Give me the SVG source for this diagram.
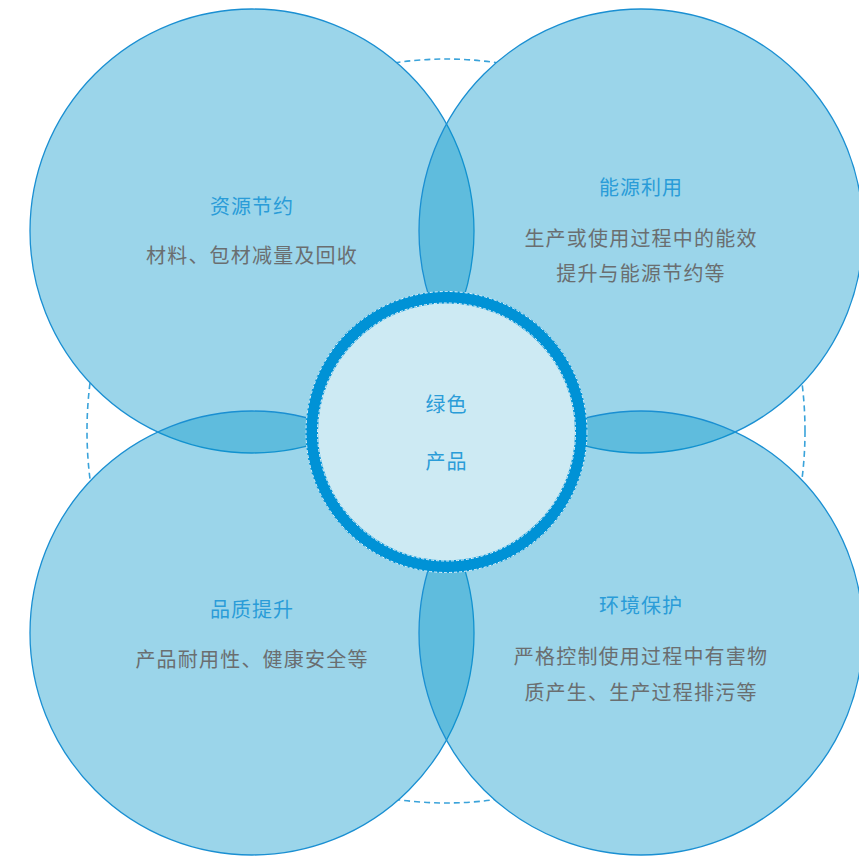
<svg xmlns="http://www.w3.org/2000/svg" width="859" height="858" viewBox="0 0 859 858">
<style>
.petal{fill:#0695cb;fill-opacity:0.4;stroke:#1a8fd2;stroke-width:1.3}
.mask{fill:#ffffff}
.title{font-family:"Noto Sans CJK SC","Noto Sans",sans-serif;font-size:20px;fill:#2a9cd8;text-anchor:middle;letter-spacing:1px}
.body{font-family:"Noto Sans CJK SC","Noto Sans",sans-serif;font-size:20px;fill:#6a6e70;text-anchor:middle;letter-spacing:1.2px}
</style>
<rect width="859" height="858" fill="#ffffff"/>
<ellipse id="outer-dashed" cx="446" cy="431" rx="359" ry="372" fill="none" stroke="#3aa3da" stroke-width="1.6" stroke-dasharray="6 4"/>
<g id="backing">
<circle class="mask" cx="252" cy="231" r="222"/>
<circle class="mask" cx="641" cy="231" r="222"/>
<circle class="mask" cx="252" cy="633" r="222"/>
<circle class="mask" cx="641" cy="633" r="222"/>
</g>
<g id="node-resource">
<circle class="petal" cx="252" cy="231" r="222"/>
</g>
<g id="node-energy">
<circle class="petal" cx="641" cy="231" r="222"/>
</g>
<g id="node-quality">
<circle class="petal" cx="252" cy="633" r="222"/>
</g>
<g id="node-environment">
<circle class="petal" cx="641" cy="633" r="222"/>
</g>
<g id="labels">
<text class="title" x="252" y="214">资源节约</text>
<text class="body" x="252" y="263">材料、包材减量及回收</text>
<text class="title" x="641" y="195">能源利用</text>
<text class="body" x="641" y="246">生产或使用过程中的能效</text>
<text class="body" x="641" y="281">提升与能源节约等</text>
<text class="title" x="252" y="617">品质提升</text>
<text class="body" x="252" y="667">产品耐用性、健康安全等</text>
<text class="title" x="641" y="613">环境保护</text>
<text class="body" x="641" y="664">严格控制使用过程中有害物</text>
<text class="body" x="641" y="700">质产生、生产过程排污等</text>
</g>
<g id="node-center">
<circle cx="446.5" cy="432" r="141" fill="#0092d6"/>
<circle cx="446.5" cy="432" r="128.5" fill="#cdeaf3"/>
<circle cx="446.5" cy="432" r="140.5" fill="none" stroke="#ffffff" stroke-width="1" stroke-dasharray="3 2" opacity="0.9"/>
<circle cx="446.5" cy="432" r="129" fill="none" stroke="#ffffff" stroke-width="1" stroke-dasharray="3 2" opacity="0.9"/>
<text class="title" x="446.5" y="412">绿色</text>
<text class="title" x="446.5" y="469">产品</text>
</g>
</svg>
